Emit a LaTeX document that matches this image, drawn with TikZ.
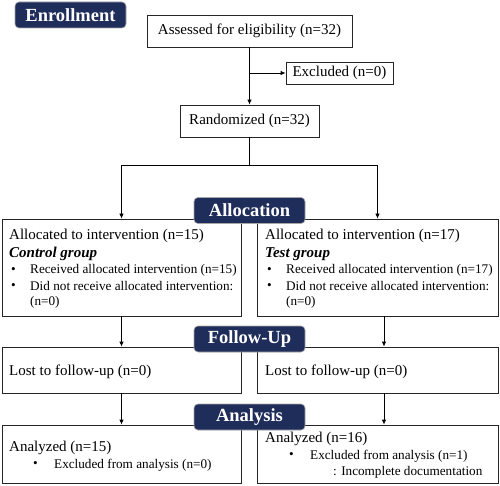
\documentclass[tikz,border=0pt]{standalone}
\usepackage{fontspec}
\setmainfont{Liberation Serif}
\usetikzlibrary{arrows.meta}
\definecolor{navy}{RGB}{31,45,90}
\begin{document}
\begin{tikzpicture}[x=1pt,y=-1pt,
  box/.style={draw=black!85,line width=0.8pt,fill=white,inner sep=0pt,anchor=center},
  badge/.style={draw=black!35,line width=0.6pt,fill=navy,rounded corners=4pt,inner sep=0pt,
    minimum width=111pt,minimum height=26pt,text=white,font=\fontsize{18.5}{20}\selectfont\bfseries},
  txt/.style={inner sep=0pt,anchor=west,font=\fontsize{15}{17}\selectfont},
  stxt/.style={inner sep=0pt,anchor=west,font=\fontsize{13.2}{15}\selectfont},
  arr/.style={line width=0.8pt,-{Latex[length=5pt,width=4.5pt]}},
  ln/.style={line width=0.8pt}]
\useasboundingbox (0,0) rectangle (500,486);
% boxes
\node[box,minimum width=205pt,minimum height=32pt,font=\fontsize{15}{17}\selectfont] (assess) at (249.5,31) {Assessed for eligibility (n=32)};
\node[box,minimum width=107pt,minimum height=22pt,font=\fontsize{15}{17}\selectfont] (excl) at (339.5,73) {Excluded (n=0)};
\node[box,minimum width=139pt,minimum height=32pt,font=\fontsize{15}{17}\selectfont] (rand) at (249.5,121) {Randomized (n=32)};
\node[box,minimum width=239pt,minimum height=97pt] (allocL) at (121.5,267.5) {};
\node[box,minimum width=241pt,minimum height=97pt] (allocR) at (377.5,267.5) {};
\node[box,minimum width=239pt,minimum height=46pt] (fuL) at (121.5,370) {};
\node[box,minimum width=241pt,minimum height=46pt] (fuR) at (377.5,370) {};
\node[box,minimum width=239pt,minimum height=58pt] (anL) at (121.5,454) {};
\node[box,minimum width=241pt,minimum height=58pt] (anR) at (377.5,454) {};
% connectors
\coordinate (br) at (249.5,73);
\coordinate (sp) at (249.5,165);
\coordinate (spL) at (121.5,165);
\coordinate (spR) at (377.5,165);
\draw[arr] (assess.south) -- (rand.north);
\draw[arr] (br) -- (excl.west);
\draw[ln] (rand.south) -- (sp);
\draw[ln] (spL) -- (spR);
\draw[arr] (spL) -- (allocL.north);
\draw[arr] (spR) -- (allocR.north);
\draw[arr] (allocL.south) -- (fuL.north);
\draw[arr] ([xshift=6.5pt]allocR.south) -- ([xshift=6.5pt]fuR.north);
\draw[arr] (fuL.south) -- (anL.north);
\draw[arr] ([xshift=6.5pt]fuR.south) -- ([xshift=6.5pt]anR.north);
% badges
\node[badge] (enr) at (70.5,15) {Enrollment};
\node[badge] (alc) at (249.5,210.5) {Allocation};
\node[badge] (fol) at (249.5,339) {Follow-Up};
\node[badge] (ana) at (249.5,417) {Analysis};
% allocation texts
\node[txt] (l1) at (9,235.5) {Allocated to intervention (n=15)};
\node[txt] (l2) at (9,254) {\textbf{\textit{Control group}}};
\node[stxt] (l3b) at (11,270.5) {\textbullet};
\node[stxt] (l3) at (30,270.5) {Received allocated intervention (n=15)};
\node[stxt] (l4b) at (11,286.5) {\textbullet};
\node[stxt] (l4) at (30,286.5) {Did not receive allocated intervention:};
\node[stxt] (l5) at (30,302.5) {(n=0)};
\node[txt] (r1) at (265,235.5) {Allocated to intervention (n=17)};
\node[txt] (r2) at (265,254) {\textbf{\textit{Test group}}};
\node[stxt] (r3b) at (267,270.5) {\textbullet};
\node[stxt] (r3) at (286,270.5) {Received allocated intervention (n=17)};
\node[stxt] (r4b) at (267,286.5) {\textbullet};
\node[stxt] (r4) at (286,286.5) {Did not receive allocated intervention:};
\node[stxt] (r5) at (286,302.5) {(n=0)};
% follow-up texts
\node[txt] (fl) at (9,372) {Lost to follow-up (n=0)};
\node[txt] (fr) at (265,372) {Lost to follow-up (n=0)};
% analysis texts
\node[txt] (al1) at (9,448) {Analyzed (n=15)};
\node[stxt] (al2b) at (33,465) {\textbullet};
\node[stxt] (al2) at (54,465) {Excluded from analysis (n=0)};
\node[txt] (ar1) at (265,439) {Analyzed (n=16)};
\node[stxt] (ar2b) at (289,456) {\textbullet};
\node[stxt] (ar2) at (310,456) {Excluded from analysis (n=1)};
\node[stxt] (ar3) at (333,472) {: Incomplete documentation};
\end{tikzpicture}
\end{document}
